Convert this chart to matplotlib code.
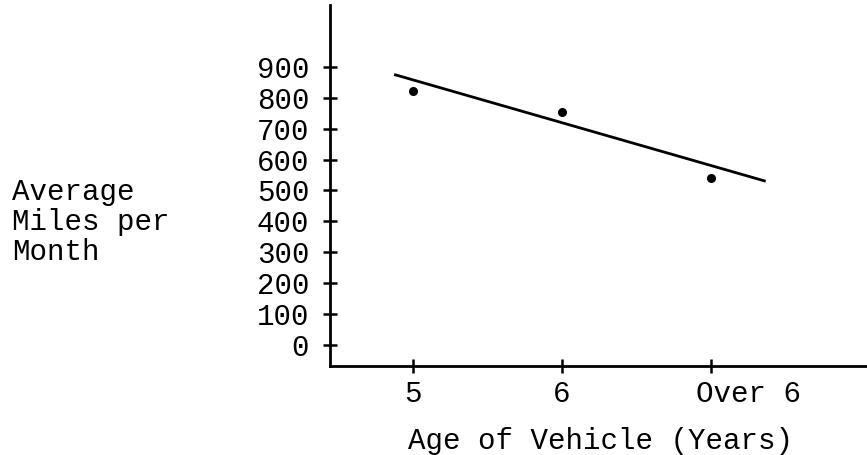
import matplotlib
matplotlib.use('Agg')
from matplotlib import pyplot as plt
from matplotlib.transforms import ScaledTranslation

# data
age_labels = ['5', '6', 'Over 6']
age_pos = [5, 6, 7]
avg_miles = [822, 754, 540]
trend_x = [4.88, 7.36]
trend_y = [874, 531]
y_ticks = [0, 100, 200, 300, 400, 500, 600, 700, 800, 900]

plt.rcParams['font.family'] = ['Liberation Mono', 'DejaVu Sans Mono']

fig = plt.figure(figsize=(8.67, 4.55), dpi=100)
ax = fig.add_axes([330 / 867, 89 / 455, 537 / 867, 361 / 455])

ax.plot(trend_x, trend_y, color='black', linewidth=2.0)
ax.plot(age_pos, avg_miles, 'o', color='black', markersize=5.5)

ax.set_xlim(4.44, 8.05)
ax.set_ylim(-68, 1100)

for side in ['top', 'right']:
    ax.spines[side].set_visible(False)
for side in ['left', 'bottom']:
    ax.spines[side].set_linewidth(2.0)

ax.set_yticks(y_ticks)
ax.set_yticklabels([str(v) for v in y_ticks])
ax.set_xticks(age_pos)
ax.set_xticklabels(age_labels)
ax.tick_params(axis='y', direction='inout', length=10, width=1.8, pad=10, labelsize=21)
ax.tick_params(axis='x', direction='inout', length=10, width=1.8, pad=5, labelsize=21)

# "Over 6" sits to the right of its tick in the original
lab = ax.get_xticklabels()[2]
lab.set_transform(lab.get_transform() + ScaledTranslation(0.38, 0, fig.dpi_scale_trans))

fig.text(12 / 867, 1 - 222 / 455, 'Average\nMiles per\nMonth', ha='left', va='center',
         fontsize=21, linespacing=1.08)
fig.text(600 / 867, 1 - 441 / 455, 'Age of Vehicle (Years)', ha='center', va='center',
         fontsize=21)

plt.savefig('out.png', dpi=100)
